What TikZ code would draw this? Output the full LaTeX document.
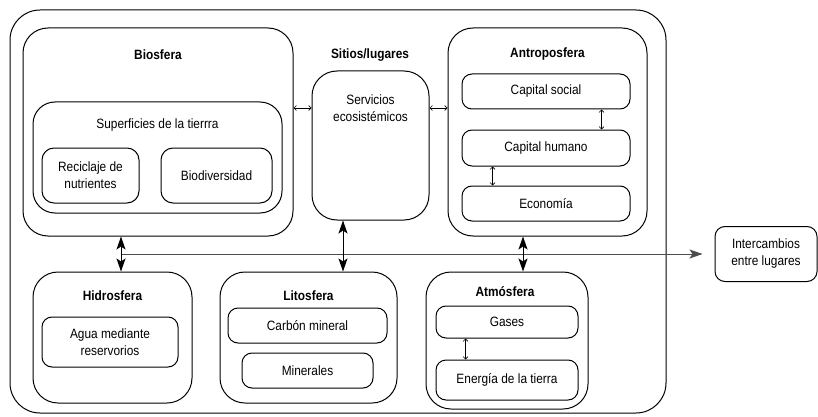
\documentclass[tikz,border=0pt]{standalone}
\usepackage{fontspec}
\setmainfont{Liberation Sans}[FakeStretch=0.88]
\usetikzlibrary{arrows.meta}

\newcommand{\letra}{\fontsize{13.5}{17}\selectfont}
\tikzset{
  caja/.style n args={3}{draw, line width=1pt, inner sep=0pt, align=center,
    minimum width=#1pt, minimum height=#2pt, rounded corners=#3pt},
  titulo/.style={font=\letra\bfseries},
  flechita/.style={{Straight Barb[length=2.5pt,width=5pt]}-{Straight Barb[length=2.5pt,width=5pt]}, line width=0.6pt},
  flecha/.style={{Stealth[length=13pt,width=9pt,inset=3pt]}-{Stealth[length=13pt,width=9pt,inset=3pt]}, line width=1pt},
  enlace/.style={-{Stealth[length=13pt,width=9pt,inset=3pt]}, line width=1pt, black!70},
}

\begin{document}
\begin{tikzpicture}[x=1pt, y=-1pt, font=\letra]
    \useasboundingbox (0,0) rectangle (818,417);
    % outer frame
    \draw[line width=1pt, rounded corners=30pt] (10,10) rectangle (666,413);
    % biosfera
    \node[caja={270}{208}{25}] (bio) at (158,132) {};
    \node[titulo] (tbio) at (158,55) {Biosfera};
    \node[caja={249}{111}{22}] (sup) at (157.5,157.5) {};
    \node (tsup) at (157.5,125) {Superficies de la tierrra};
    \node[caja={97}{55}{12}] (recic) at (90.5,175.5) {Reciclaje de\\nutrientes};
    \node[caja={111}{55}{12}] (biodiv) at (216.5,175.5) {Biodiversidad};
    % sitios/lugares
    \node[titulo] (tsitios) at (370,55) {Sitios/lugares};
    \node[caja={117}{149}{25}] (serv) at (370.5,145.5) {};
    \node[align=center] (tserv) at (370.5,108) {Servicios\\ecosistémicos};
    % antroposfera
    \node[caja={199}{208}{25}] (antro) at (547.5,132) {};
    \node[titulo] (tantro) at (547.5,54) {Antroposfera};
    \node[caja={168}{35}{10}] (csocial) at (546,91.5) {Capital social};
    \node[caja={168}{36}{10}] (chumano) at (546,148) {Capital humano};
    \node[caja={168}{35}{10}] (econ) at (546,203.5) {Economía};
    % hidrosfera
    \node[caja={159}{131}{25}] (hidro) at (112.5,337.5) {};
    \node[titulo] (thidro) at (112.5,296) {Hidrosfera};
    \node[caja={136}{50}{10}] (agua) at (110,342) {Agua mediante\\reservorios};
    % litosfera
    \node[caja={177}{131}{25}] (lito) at (308.5,337.5) {};
    \node[titulo] (tlito) at (308.5,296) {Litosfera};
    \node[caja={159}{35}{10}] (carbon) at (307.5,325.5) {Carbón mineral};
    \node[caja={131}{35}{10}] (miner) at (307.5,370.5) {Minerales};
    % atmosfera
    \node[caja={162}{137}{25}] (atmos) at (507,340.5) {};
    \node[titulo] (tatmos) at (505,292) {Atmósfera};
    \node[caja={142}{32}{10}] (gases) at (507,322) {Gases};
    \node[caja={142}{40}{10}] (energia) at (507,380) {Energía de la tierra};
    % intercambios
    \node[caja={102}{55}{10}] (inter) at (766,254) {Intercambios\\entre lugares};

    % small links
    \coordinate (nivel) at (0,108);
    \draw[flechita] (bio.east |- nivel) -- (serv.west |- nivel);
    \draw[flechita] (serv.east |- nivel) -- (antro.west |- nivel);
    \draw[flechita] ([xshift=-29pt]csocial.south east) -- ([xshift=-29pt]chumano.north east);
    \draw[flechita] ([xshift=31pt]chumano.south west) -- ([xshift=31pt]econ.north west);
    \draw[flechita] ([xshift=30pt]gases.south west) -- ([xshift=30pt]energia.north west);

    % exchanges between places
    \coordinate (bus) at (121,254);
    \draw[enlace, shorten >=12pt] (bus) -- (inter.west);
    \draw[flecha] (bio.south -| bus) -- (hidro.north -| bus);
    \coordinate (bus2) at (343,254);
    \draw[flecha] (serv.south -| bus2) -- (lito.north -| bus2);
    \coordinate (bus3) at (523,254);
    \draw[flecha] (antro.south -| bus3) -- (atmos.north -| bus3);
\end{tikzpicture}
\end{document}
